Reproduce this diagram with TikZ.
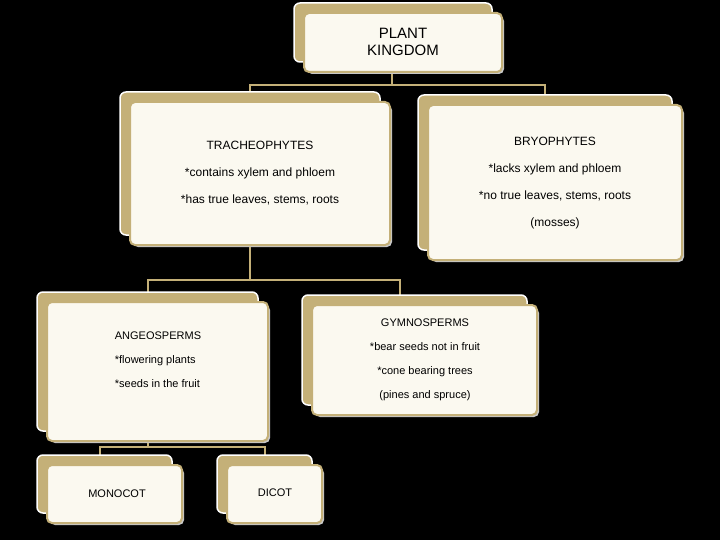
\documentclass[tikz,border=0pt]{standalone}
\usepackage{fontspec}
\setmainfont{Liberation Sans}
\begin{document}
\begin{tikzpicture}[x=1pt,y=-1pt,
  conn/.style={draw=tanc,line width=2pt},
  txt/.style={align=center,font=\fontsize{11}{24}\selectfont,text=black}]
\definecolor{tanc}{RGB}{196,176,120}
\definecolor{creamc}{RGB}{251,249,240}
\definecolor{shadc}{RGB}{200,200,200}
\fill[black] (0,0) rectangle (720,540);
\newcommand\pbox[5]{%
 \fill[tanc,draw=white,line width=1.5pt,rounded corners=6pt] (#1,#2) rectangle (#3-10,#4-10);
 \fill[shadc,rounded corners=5pt] (#1+13,#2+13) rectangle (#3+2,#4+2);
 \fill[creamc,draw=tanc,line width=2pt,rounded corners=5pt] (#1+10,#2+10) rectangle (#3,#4);
 \coordinate (#5) at ({(#1+#3)/2+5},{(#2+#4)/2+5});}
% connectors
\draw[conn] (392,72) -- (392,85) -- (250,85) -- (250,103);
\draw[conn] (392,85) -- (545,85) -- (545,105);
\draw[conn] (250,245) -- (250,280) -- (148,280) -- (148,303);
\draw[conn] (250,280) -- (400,280) -- (400,305);
\draw[conn] (148,441) -- (148,447) -- (100,447) -- (100,465);
\draw[conn] (148,447) -- (265,447) -- (265,465);
\pbox{294}{3}{502}{72}{pk}
\pbox{120}{92}{390}{245}{tr}
\pbox{418}{95}{682}{260}{br}
\pbox{37}{292}{268}{441}{an}
\pbox{302}{295}{537}{415}{gy}
\pbox{37}{455}{182}{523}{mo}
\pbox{217}{455}{322}{523}{di}
\node[txt,font=\fontsize{15}{17}\selectfont] (pkt) at (403,42) {PLANT\\KINGDOM};
\node[txt,font=\fontsize{12}{27}\selectfont] (trt) at (260,173) {TRACHEOPHYTES\\*contains xylem and phloem\\*has true leaves, stems, roots};
\node[txt,font=\fontsize{12}{27}\selectfont] (brt) at (555,183) {BRYOPHYTES\\*lacks xylem and phloem\\*no true leaves, stems, roots\\(mosses)};
\node[txt,font=\fontsize{11}{24}\selectfont,align=left] (ant) at (158,360) {ANGEOSPERMS\\*flowering plants\\*seeds in the fruit};
\node[txt,font=\fontsize{11}{24}\selectfont] (gyt) at (425,360) {GYMNOSPERMS\\*bear seeds not in fruit\\*cone bearing trees\\(pines and spruce)};
\node[txt,font=\fontsize{11}{13}\selectfont] (mot) at (117,494) {MONOCOT};
\node[txt,font=\fontsize{11}{13}\selectfont] (dit) at (275,493) {DICOT};
\end{tikzpicture}
\end{document}
